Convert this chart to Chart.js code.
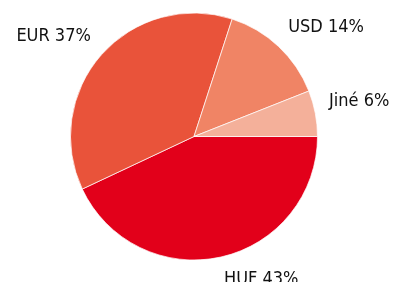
<!DOCTYPE html>
<html>
<head>
<meta charset="utf-8">
<script src="https://cdn.jsdelivr.net/npm/chart.js@4.4.1/dist/chart.umd.min.js"></script>
<style>
  html, body { margin: 0; padding: 0; background: #fff; }
  #wrap { width: 398px; height: 282px; position: relative; }
</style>
</head>
<body>
<div id="wrap"><canvas id="currencyChart"></canvas></div>
<script>
const categories = ['HUF', 'EUR', 'USD', 'Jiné'];
const shares = [43, 37, 14, 6];
const sliceColors = ['#e2001a', '#e9533a', '#f08465', '#f4b09a'];

// Draw "name xx%" outside every slice, anchored at the corner nearest the pie
const outsideLabels = {
    id: 'outsideLabels',
    afterDatasetsDraw(chart) {
        const ctx = chart.ctx;
        const meta = chart.getDatasetMeta(0);
        ctx.save();
        ctx.font = '18px "DejaVu Sans Condensed", "DejaVu Sans", Tahoma, sans-serif';
        ctx.fillStyle = '#111';
        meta.data.forEach((arc, i) => {
            const mid = (arc.startAngle + arc.endAngle) / 2;
            const r = arc.outerRadius + 14;
            const x = arc.x + Math.cos(mid) * r;
            const y = arc.y + Math.sin(mid) * r;
            ctx.textAlign = Math.cos(mid) >= 0 ? 'left' : 'right';
            ctx.textBaseline = Math.sin(mid) < 0 ? 'bottom' : 'top';
            ctx.fillText(categories[i] + ' ' + shares[i] + '%', x, y);
        });
        ctx.restore();
    }
};

new Chart(document.getElementById('currencyChart'), {
    type: 'pie',
    data: {
        labels: categories,
        datasets: [{
            data: shares,
            backgroundColor: sliceColors,
            borderColor: 'rgba(255,255,255,0.7)',
            borderWidth: 1
        }]
    },
    options: {
        responsive: true,
        maintainAspectRatio: false,
        animation: false,
        rotation: 90,
        layout: { padding: { top: 12, bottom: 21, left: 70, right: 80 } },
        plugins: {
            legend: { display: false },
            tooltip: { enabled: false }
        }
    },
    plugins: [outsideLabels]
});
</script>
</body>
</html>
